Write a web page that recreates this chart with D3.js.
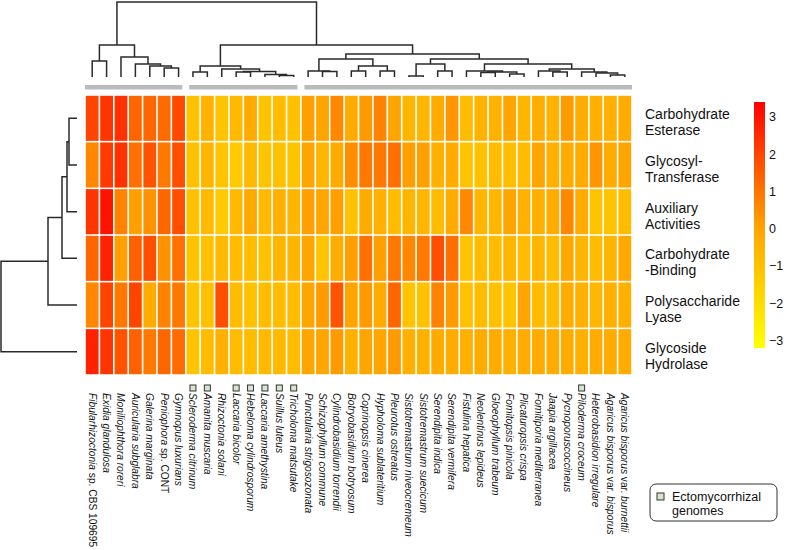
<!DOCTYPE html>
<html><head><meta charset="utf-8">
<script src="https://cdn.jsdelivr.net/npm/d3@7"></script>
<style>body{margin:0;background:#fff}svg{display:block;font-family:"Liberation Sans",Arial,Helvetica,sans-serif}</style>
</head><body><svg id="c" width="790" height="550"></svg>
<script>
// ---------- DATA ----------
const species = [
  "Fibularhizoctonia sp. CBS 109695","Exidia glandulosa","Moniliophthora roreri","Auricularia subglabra",
  "Galerina marginata","Peniophora sp. CONT","Gymnopus luxurians","Scleroderma citrinum","Amanita muscaria",
  "Rhizoctonia solani","Laccaria bicolor","Hebeloma cylindrosporum","Laccaria amethystina","Suillus luteus",
  "Tricholoma matsutake","Punctularia strigosozonata","Schizophyllum commune","Cylindrobasidium torrendii",
  "Botryobasidium botryosum","Coprinopsis cinerea","Hypholoma sublateritium","Pleurotus ostreatus",
  "Sistotremastrum niveocremeum","Sistotremastrum suecicum","Serendipita indica","Serendipita vermifera",
  "Fistulina hepatica","Neolentinus lepideus","Gloeophyllum trabeum","Fomitopsis pinicola","Plicaturopsis crispa",
  "Fomitiporia mediterranea","Jaapia argillacea","Pycnoporuscoccineus","Piloderma croceum",
  "Heterobasidion irregulare","Agaricus bisporus var. bisporus","Agaricus bisporus var. burnettii"
];
const ectomycorrhizal = ["Scleroderma citrinum","Amanita muscaria","Laccaria bicolor","Hebeloma cylindrosporum",
  "Laccaria amethystina","Suillus luteus","Tricholoma matsutake","Piloderma croceum"];
const rowLabels = [["Carbohydrate","Esterase"],["Glycosyl-","Transferase"],["Auxiliary","Activities"],
  ["Carbohydrate","-Binding"],["Polysaccharide","Lyase"],["Glycoside","Hydrolase"]];

const carbohydrateEsterase = [2.0,2.3,2.4,1.3,1.3,1.2,1.9,-1.0,-0.5,-1.1,-0.7,-0.2,-1.1,-0.8,-1.0,
  0.1,0.0,0.6,-0.2,0.2,0.7,0.0,-0.6,-0.6,-0.2,0.3,-0.8,-0.5,-0.5,0.0,-0.6,-0.3,-0.5,0.2,-0.3,-0.4,-0.4,-0.2];
const glycosylTransferase = [0.6,2.2,2.4,1.1,1.7,0.9,1.8,-1.0,-0.6,-1.1,-1.3,-0.7,-1.1,-1.0,-1.1,
  0.0,-0.6,-0.2,0.5,0.9,0.9,1.1,0.1,0.1,-0.4,-0.2,-1.1,-1.0,-0.8,-0.9,-0.8,0.0,-0.4,-0.2,-0.2,0.3,-0.2,0.0];
const auxiliaryActivities = [2.3,3.0,0.7,0.1,0.4,1.3,1.8,-1.0,-0.7,-1.3,-0.7,-0.1,-0.7,-0.4,-0.6,
  0.1,0.0,0.1,-1.0,-0.2,-0.4,-0.8,-0.6,-0.6,-0.8,-0.2,0.6,-0.6,-0.6,0.0,-0.4,-0.4,-0.2,0.6,-0.2,-1.1,-1.1,-0.8];
const carbohydrateBinding = [1.3,2.7,0.1,1.4,1.8,0.4,1.1,-1.1,-1.0,-0.7,-0.8,-0.8,-1.0,-0.6,-0.6,
  0.0,-1.1,-0.3,0.1,1.1,0.1,0.9,0.6,0.9,1.8,1.1,-1.1,-0.8,-0.8,-0.6,-0.8,-0.6,-0.8,-0.1,-0.6,-0.8,-0.6,-0.1];
const polysaccharideLyase = [0.6,2.0,0.9,2.0,-0.2,0.7,0.9,-1.1,-1.0,1.8,-0.8,-1.0,-0.8,-0.8,-0.8,
  0.0,0.2,1.7,0.0,0.2,-0.2,1.3,-1.1,-1.0,0.7,0.2,-1.0,-0.8,-1.0,-1.1,0.0,-0.8,-0.8,-0.2,-0.4,-0.6,-0.4,-0.4];
const glycosideHydrolase = [2.7,2.3,1.7,1.4,0.9,1.3,1.2,-1.1,-0.8,-0.4,-0.8,-0.8,-0.7,-0.7,-0.8,
  0.0,0.0,0.2,-0.4,0.0,0.0,0.2,-0.4,-0.4,-0.2,-0.2,-0.4,-0.2,-0.2,-0.4,-0.2,-0.2,-0.2,-0.2,-0.4,-0.2,-0.2,-0.2];
const rowValues = [carbohydrateEsterase,glycosylTransferase,auxiliaryActivities,carbohydrateBinding,polysaccharideLyase,glycosideHydrolase];

// dendrograms: [height, left, right], leaves = column / row indices
const colTree = [75,
  [32, [16,0,1], [20,2,[13,3,[11,4,[9,5,6]]]]],
  [32,
    [11, [5,7,8], [8,9,[5.5,[5,10,11],[2.5,12,[1.5,13,14]]]]],
    [23,
      [18, [6,15,[5.5,16,17]], [11,[6,18,19],[6,20,21]]],
      [18, [13,[1,22,23],[6,24,25]],
           [13, [6,26,[5,[4.5,27,28],[3,29,30]]],
                [8, [6,31,[5,32,33]], [5,34,[4,35,[2,36,37]]]]]]]]];
const rowTree = [76,[29,[15,[10,[8,0,1],2],3],4],5];
const colClusters = [[0,6],[7,14],[15,37]];
const colorTicks = [3,2,1,0,-1,-2,-3];
const colorDomain = [-3.2,0,3.4];

// ---------- DRAW ----------
const svg = d3.select("#c");
const x = d3.scaleBand().domain(d3.range(species.length)).range([85,632]);
const y = d3.scaleBand().domain(d3.range(rowLabels.length)).range([95,375]);
const color = d3.scaleLinear().domain(colorDomain).range(["#ffff00","#ffa500","#ff0000"]);
const lineCol = "#2a2a2a";

// cells
rowValues.forEach((vals,r)=>{
  svg.append("g").selectAll("rect").data(vals).join("rect")
    .attr("x",(d,i)=>x(i)+0.8).attr("y",y(r)+0.8)
    .attr("width",x.bandwidth()-1.6).attr("height",y.bandwidth()-1.6)
    .attr("fill",d=>color(d));
});

// cluster bars
svg.append("g").selectAll("rect").data(colClusters).join("rect")
  .attr("x",d=>x(d[0])+(d[0]===0?0:3.5))
  .attr("width",d=>x(d[1])+x.bandwidth()-(d[1]===species.length-1?0:3.5)-x(d[0])-(d[0]===0?0:3.5))
  .attr("y",85).attr("height",4.5).attr("fill","#bbbbbb");

// top dendrogram
const hTop = d3.scaleLinear().domain([0,75]).range([77,2]);
const topG = svg.append("g").attr("fill","none").attr("stroke",lineCol).attr("stroke-width",1.5);
function drawCol(node){
  if(typeof node === "number") return {pos:x(node)+x.bandwidth()/2, h:0};
  const a = drawCol(node[1]), b = drawCol(node[2]);
  const yy = hTop(node[0]);
  topG.append("path").attr("d",`M${a.pos},${hTop(a.h)}V${yy}H${b.pos}V${hTop(b.h)}`);
  return {pos:(a.pos+b.pos)/2, h:node[0]};
}
drawCol(colTree);

// left dendrogram
const hLeft = d3.scaleLinear().domain([0,76]).range([77,1]);
const leftG = svg.append("g").attr("fill","none").attr("stroke",lineCol).attr("stroke-width",1.5);
function drawRow(node){
  if(typeof node === "number") return {pos:y(node)+y.bandwidth()/2, h:0};
  const a = drawRow(node[1]), b = drawRow(node[2]);
  const xx = hLeft(node[0]);
  leftG.append("path").attr("d",`M${hLeft(a.h)},${a.pos}H${xx}V${b.pos}H${hLeft(b.h)}`);
  return {pos:(a.pos+b.pos)/2, h:node[0]};
}
drawRow(rowTree);

// column labels
const upright = new Set(["sp.","CBS","109695","CONT","var."]);
species.forEach((s,i)=>{
  const t = svg.append("text")
    .attr("transform",`translate(${x(i)+x.bandwidth()/2},393) rotate(90)`)
    .attr("dy","0.35em").attr("font-size",10.2).attr("fill","#111");
  s.split(" ").forEach((w,k)=>{
    t.append("tspan").text((k?" ":"")+w).attr("font-style",upright.has(w)?"normal":"italic");
  });
});

// ECM markers
const mSize = 6;
svg.append("g").selectAll("rect").data(species.map((s,i)=>[s,i]).filter(d=>ectomycorrhizal.includes(d[0])))
  .join("rect")
  .attr("x",d=>x(d[1])+x.bandwidth()/2-mSize/2).attr("y",385).attr("width",mSize).attr("height",mSize)
  .attr("fill","#d4e6cc").attr("stroke","#333").attr("stroke-width",1);

// row labels
rowLabels.forEach((lines,r)=>{
  const cy = y(r)+y.bandwidth()/2;
  lines.forEach((l,k)=>{
    svg.append("text").attr("x",645).attr("y",cy+1+(k===0?0:16)).attr("font-size",14).attr("fill","#111").text(l);
  });
});

// colour bar
const defs = svg.append("defs");
const grad = defs.append("linearGradient").attr("id","cg").attr("x1",0).attr("x2",0).attr("y1",1).attr("y2",0);
const cbScale = d3.scaleLinear().domain([colorDomain[0],colorDomain[2]]).range([348,102]);
d3.range(0,1.0001,0.05).forEach(t=>{
  const v = colorDomain[0]+t*(colorDomain[2]-colorDomain[0]);
  grad.append("stop").attr("offset",t).attr("stop-color",color(v));
});
svg.append("rect").attr("x",754).attr("y",102).attr("width",11).attr("height",246).attr("fill","url(#cg)");
svg.append("g").selectAll("text").data(colorTicks).join("text")
  .attr("x",769).attr("y",d=>cbScale(d)).attr("dy","0.35em").attr("font-size",12.5).attr("fill","#111")
  .text(d=>d<0?"\u2212"+(-d):d);

// legend
const lg = svg.append("g");
lg.append("rect").attr("x",650).attr("y",484).attr("width",127).attr("height",37).attr("rx",6)
  .attr("fill","#fff").attr("stroke","#333").attr("stroke-width",1);
lg.append("rect").attr("x",657).attr("y",493).attr("width",7).attr("height",7)
  .attr("fill","#d4e6cc").attr("stroke","#333").attr("stroke-width",1);
lg.append("text").attr("x",672).attr("y",501).attr("font-size",12.5).attr("fill","#111").text("Ectomycorrhizal");
lg.append("text").attr("x",672).attr("y",515).attr("font-size",12.5).attr("fill","#111").text("genomes");
</script></body></html>
